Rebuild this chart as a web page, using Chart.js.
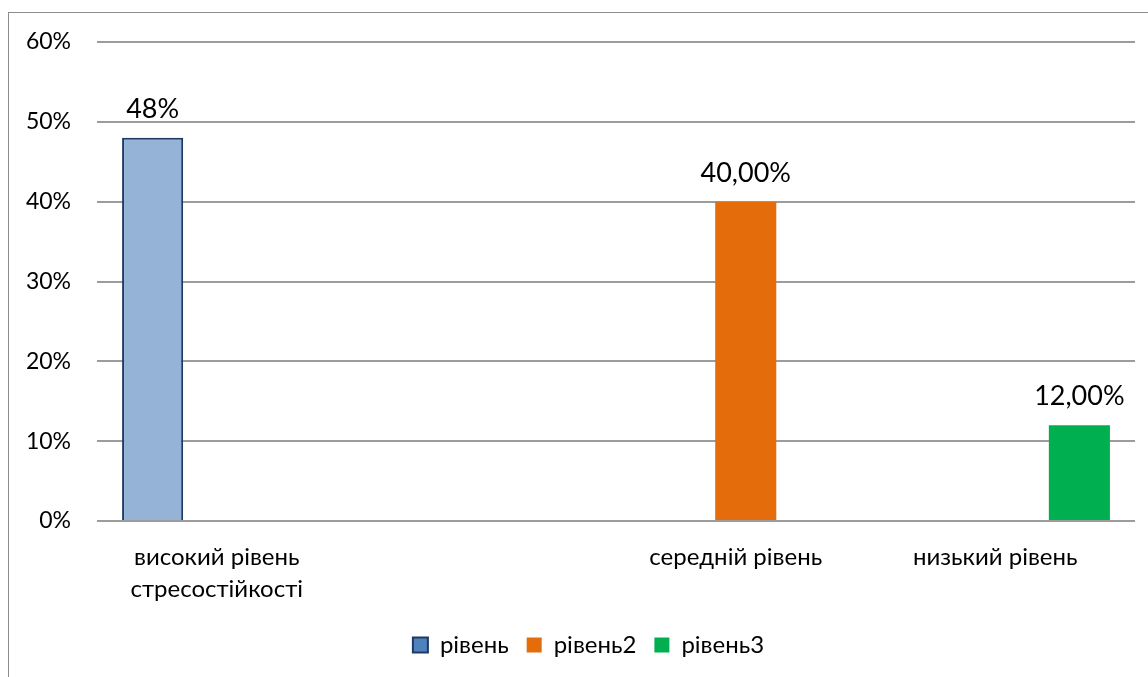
<!DOCTYPE html>
<html>
	<head>
		<meta charset="UTF-8" />
		<title>Рівень стресостійкості</title>
		<script src="https://cdn.jsdelivr.net/npm/chart.js"></script>
		<style>
			html, body { margin: 0; padding: 0; background: #fff; }
			#wrap { width: 1148px; height: 677px; position: relative; }
		</style>
	</head>
	<body>
		<div id="wrap"><canvas id="myChart"></canvas></div>

		<script>
			// категорії (друга порожня — проміжок між групами)
			const categories = [['високий рівень', 'стресостійкості'], '', 'середній рівень', 'низький рівень'];

			// серії: у кожної одне значення у своїй категорії
			const seriesNames = ['рівень', 'рівень2', 'рівень3'];
			const level1 = [48, null, null, null];
			const level2 = [null, null, 40, null];
			const level3 = [null, null, null, 12];

			// скільки знаків після коми у підписах
			const labelDecimals = [0, 2, 2];

			const yTicks = [0, 10, 20, 30, 40, 50, 60];

			const FONT = 'Lato, Calibri, sans-serif';

			// підписи над стовпцями
			const valueLabels = {
			  id: 'valueLabels',
			  afterDatasetsDraw(chart) {
			    const ctx = chart.ctx;
			    ctx.save();
			    ctx.font = '27px ' + FONT;
			    ctx.fillStyle = '#000';
			    ctx.textAlign = 'center';
			    ctx.textBaseline = 'bottom';
			    chart.data.datasets.forEach((ds, i) => {
			      chart.getDatasetMeta(i).data.forEach((bar, j) => {
			        const v = ds.data[j];
			        if (v === null) return;
			        const txt = v.toFixed(labelDecimals[i]).replace('.', ',') + '%';
			        ctx.fillText(txt, bar.x, bar.y - 15);
			      });
			    });
			    ctx.restore();
			  }
			};

			// рамка області діаграми
			const frame = {
			  id: 'frame',
			  beforeDraw(chart) {
			    const ctx = chart.ctx;
			    ctx.save();
			    ctx.fillStyle = '#fff';
			    ctx.fillRect(0, 0, chart.width, chart.height);
			    ctx.strokeStyle = '#8c8c8c';
			    ctx.lineWidth = 1;
			    ctx.strokeRect(8.5, 12.5, chart.width + 20, chart.height + 20);
			    ctx.restore();
			  }
			};

			// легенда трохи правіше і вище
			const legendShift = {
			  id: 'legendShift',
			  afterLayout(chart) {
			    const lg = chart.legend;
			    lg.left += 21; lg.right += 21;
			    lg.top -= 10; lg.bottom -= 10;
			  }
			};

			const ctx = document.getElementById('myChart').getContext('2d');
			new Chart(ctx, {
			  type: 'bar',
			  data: {
			    labels: categories,
			    datasets: [
			      {
			        label: seriesNames[0],
			        data: level1,
			        backgroundColor: '#95b3d7',
			        borderColor: '#1f3864',
			        borderWidth: 2,
			        borderSkipped: 'bottom'
			      },
			      {
			        label: seriesNames[1],
			        data: level2,
			        backgroundColor: '#e46c0a',
			        borderWidth: 0
			      },
			      {
			        label: seriesNames[2],
			        data: level3,
			        backgroundColor: '#00b050',
			        borderWidth: 0
			      }
			    ]
			  },
			  options: {
			    responsive: true,
			    maintainAspectRatio: false,
			    animation: false,
			    categoryPercentage: 0.857,
			    barPercentage: 0.824,
			    layout: { padding: { top: 42, right: 13, bottom: 0, left: 0 } },
			    plugins: {
			      tooltip: { enabled: false },
			      legend: {
			        position: 'bottom',
			        labels: {
			          color: '#000',
			          font: { family: FONT, size: 24 },
			          boxWidth: 15,
			          boxHeight: 15,
			          padding: 18,
			          generateLabels(chart) {
			            const fills = ['#4f81bd', '#e46c0a', '#00b050'];
			            const strokes = ['#1f3864', '#e46c0a', '#00b050'];
			            return chart.data.datasets.map((ds, i) => ({
			              text: ds.label,
			              fillStyle: fills[i],
			              strokeStyle: strokes[i],
			              lineWidth: i === 0 ? 2 : 0,
			              fontColor: '#000',
			              datasetIndex: i
			            }));
			          }
			        }
			      }
			    },
			    scales: {
			      x: {
			        grid: { display: false },
			        border: { display: false },
			        ticks: {
			          color: '#000',
			          font: { family: FONT, size: 24, lineHeight: 1.35 },
			          padding: 12,
			          labelOffset: -10,
			          maxRotation: 0,
			          autoSkip: false
			        },
			        afterFit(scale) { scale.height = 104; }
			      },
			      y: {
			        min: 0,
			        max: 60,
			        afterBuildTicks(scale) { scale.ticks = yTicks.map(v => ({ value: v })); },
			        grid: { color: '#9c9c9c', lineWidth: 2, drawTicks: false },
			        border: { display: false },
			        ticks: {
			          color: '#000',
			          font: { family: FONT, size: 23 },
			          padding: 26,
			          callback: v => v + '%'
			        },
			        afterFit(scale) { scale.width = 97; }
			      }
			    }
			  },
			  plugins: [frame, valueLabels, legendShift]
			});
		</script>
	</body>
</html>
